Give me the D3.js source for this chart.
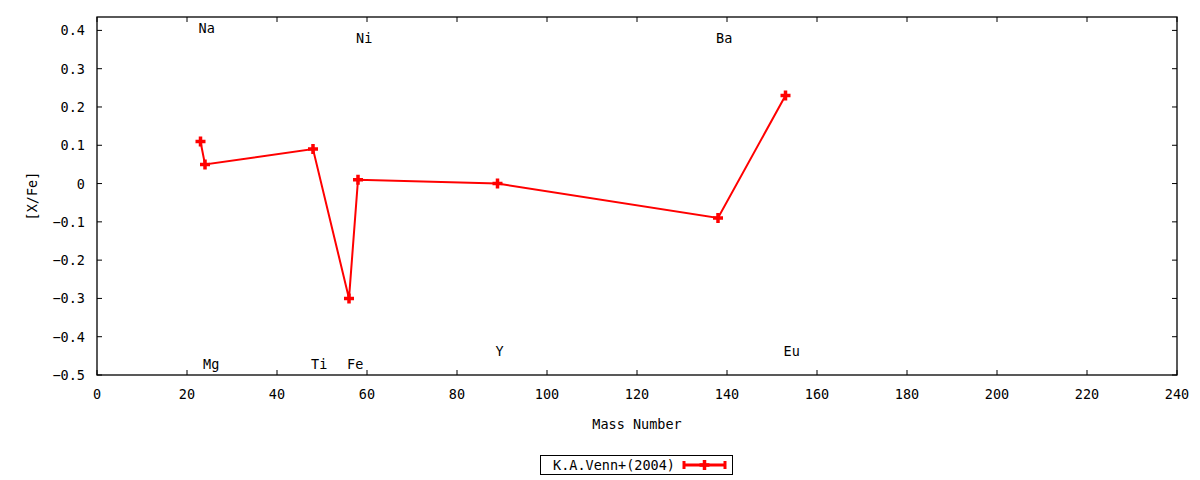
<!DOCTYPE html>
<html>
<head>
<meta charset="utf-8">
<script src="https://cdn.jsdelivr.net/npm/d3@7"></script>
<style>
  body { margin: 0; background: #fff; }
  text { font-family: "DejaVu Sans Mono", monospace; font-size: 13.5px; fill: #000; }
</style>
</head>
<body>
<div id="chart"></div>
<script>
// data
const elements = ["Na", "Mg", "Ti", "Fe", "Ni", "Y", "Ba", "Eu"];
const massNumbers = [23, 24, 48, 56, 58, 89, 138, 153];
const xFe = [0.11, 0.05, 0.09, -0.30, 0.01, 0.0, -0.09, 0.23];
// element label positions (data units)
const labelX = [23, 24, 48, 56, 58, 89, 138, 153];
const labelY = [0.405, -0.472, -0.472, -0.472, 0.38, -0.437, 0.38, -0.437];
const xTicks = d3.range(0, 241, 20);
const yTicks = [-0.5, -0.4, -0.3, -0.2, -0.1, 0, 0.1, 0.2, 0.3, 0.4];
const seriesName = "K.A.Venn+(2004)";

const W = 1200, H = 480;
const margin = {top: 17, right: 23, bottom: 105, left: 97};
const width = W - margin.left - margin.right;
const height = H - margin.top - margin.bottom;

const svg = d3.select("#chart")
  .append("svg")
    .attr("width", W)
    .attr("height", H);

const g = svg.append("g")
    .attr("transform", `translate(${margin.left}, ${margin.top})`);

const x = d3.scaleLinear().domain([0, 240]).range([0, width]);
const y = d3.scaleLinear().domain([-0.5, 0.435]).range([height, 0]);

const tick = 5;
// tick marks on all four sides (pointing inward)
g.selectAll(".xt")
  .data(xTicks)
  .join("g")
    .each(function(d) {
      const s = d3.select(this);
      s.append("line").attr("x1", x(d)).attr("x2", x(d)).attr("y1", height).attr("y2", height - tick);
      s.append("line").attr("x1", x(d)).attr("x2", x(d)).attr("y1", 0).attr("y2", tick);
    })
    .attr("stroke", "#000");

g.selectAll(".yt")
  .data(yTicks)
  .join("g")
    .each(function(d) {
      const s = d3.select(this);
      s.append("line").attr("x1", 0).attr("x2", tick).attr("y1", y(d)).attr("y2", y(d));
      s.append("line").attr("x1", width).attr("x2", width - tick).attr("y1", y(d)).attr("y2", y(d));
    })
    .attr("stroke", "#000");

// tick labels
g.selectAll(".xl")
  .data(xTicks)
  .join("text")
    .attr("x", d => x(d))
    .attr("y", height + 24)
    .attr("text-anchor", "middle")
    .text(d => d);

g.selectAll(".yl")
  .data(yTicks)
  .join("text")
    .attr("x", -12)
    .attr("y", d => y(d) + 5)
    .attr("text-anchor", "end")
    .text(d => d === 0 ? "0" : d3.format(".1f")(d));

// frame
g.append("rect")
    .attr("width", width)
    .attr("height", height)
    .attr("fill", "none")
    .attr("stroke", "#000")
    .attr("stroke-width", 1.3);

// element labels
g.selectAll(".el")
  .data(elements)
  .join("text")
    .attr("x", (d, i) => x(labelX[i]) - 2)
    .attr("y", (d, i) => y(labelY[i]) + 5)
    .text(d => d);

// series line
const pts = massNumbers.map((m, i) => [m, xFe[i]]);
g.append("path")
    .datum(pts)
    .attr("fill", "none")
    .attr("stroke", "#ff0000")
    .attr("stroke-width", 2)
    .attr("d", d3.line().x(d => x(d[0])).y(d => y(d[1])));

const plus = (sel, cx, cy) => {
  sel.append("path")
    .attr("d", `M${cx - 5},${cy}H${cx + 5}M${cx},${cy - 5}V${cy + 5}`)
    .attr("stroke", "#ff0000")
    .attr("stroke-width", 3.5)
    .attr("fill", "none");
};
pts.forEach(p => plus(g, x(p[0]), y(p[1])));

// axis titles
svg.append("text")
    .attr("x", margin.left + width / 2)
    .attr("y", 429)
    .attr("text-anchor", "middle")
    .text("Mass Number");

svg.append("text")
    .attr("transform", "translate(37, 196) rotate(-90)")
    .attr("text-anchor", "middle")
    .text("[X/Fe]");

// legend
const lg = svg.append("g");
lg.append("rect")
    .attr("x", 540.5).attr("y", 455.5)
    .attr("width", 192).attr("height", 19)
    .attr("fill", "#fff").attr("stroke", "#000");
lg.append("text")
    .attr("x", 675)
    .attr("y", 470)
    .attr("text-anchor", "end")
    .text(seriesName);
lg.append("line")
    .attr("x1", 684).attr("x2", 725)
    .attr("y1", 465).attr("y2", 465)
    .attr("stroke", "#ff0000").attr("stroke-width", 3);
[684, 725].forEach(cx => {
  lg.append("line")
    .attr("x1", cx).attr("x2", cx)
    .attr("y1", 461).attr("y2", 469)
    .attr("stroke", "#ff0000").attr("stroke-width", 3);
});
plus(lg, 704.5, 465);
</script>
</body>
</html>
